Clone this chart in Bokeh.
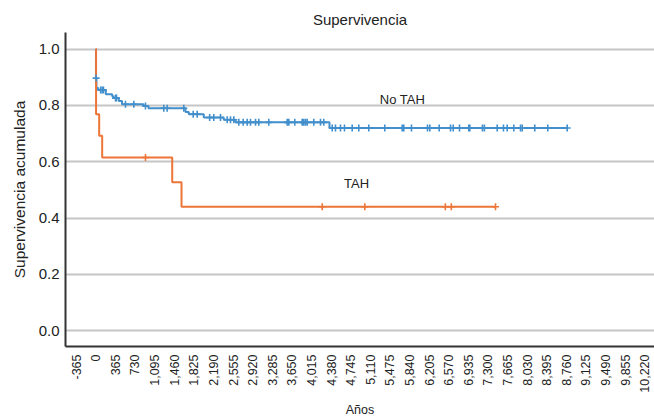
from bokeh.plotting import figure
from bokeh.models import Range1d, FixedTicker, Label, CustomJSTickFormatter
from bokeh.embed import file_html
from bokeh.resources import INLINE
import math

# Kaplan-Meier estimates (days since diagnosis, cumulative survival)
no_tah_times = [0, 3, 12, 45, 186, 305, 330, 428, 488, 890, 981, 1670, 1732,
                2011, 2383, 2601, 4351, 8790]
no_tah_surv = [1.0, 0.897, 0.862, 0.855, 0.840, 0.833, 0.826, 0.816, 0.804,
               0.798, 0.790, 0.777, 0.769, 0.757, 0.749, 0.740, 0.720, 0.720]
no_tah_censored = [6, 90, 119, 143, 367, 386, 553, 708, 925, 1266, 1329, 1639,
                   1814, 1888, 2120, 2197, 2322, 2447, 2508, 2570, 2663, 2745,
                   2819, 2880, 2974, 3035, 3221, 3564, 3594, 3705, 3843, 3873,
                   3905, 3936, 4059, 4184, 4245, 4402, 4463, 4556, 4631, 4774,
                   4897, 5083, 5381, 5705, 5735, 5878, 6176, 6219, 6394, 6605,
                   6655, 6772, 6945, 6964, 7199, 7236, 7474, 7591, 7660, 7783,
                   7908, 7940, 8174, 8416, 8777]

tah_times = [0, 5, 63, 119, 1423, 1596, 7443]
tah_surv = [1.0, 0.769, 0.692, 0.615, 0.527, 0.440, 0.440]
tah_censored = [925, 4216, 5009, 6508, 6620, 7443]

x_ticks = list(range(-365, 10221, 365))
y_ticks = [0.0, 0.2, 0.4, 0.6, 0.8, 1.0]

BLUE = "#428fcc"
ORANGE = "#ec7537"
FONT = "Liberation Sans"


def surv_at(times, surv, t):
    s = surv[0]
    for ti, si in zip(times, surv):
        if ti <= t:
            s = si
    return s


p = figure(width=654, height=419, output_backend="svg", toolbar_location=None,
           x_range=Range1d(-564, 10403), y_range=Range1d(-0.056, 1.059),
           min_border_left=65, min_border_right=0, min_border_top=32,
           min_border_bottom=68)
p.outline_line_color = None
p.background_fill_color = "white"
p.border_fill_color = "white"

p.title.text = "Supervivencia"
p.title.align = "center"
p.title.text_font = FONT
p.title.text_font_size = "15px"
p.title.text_font_style = "normal"
p.title.text_color = "#222222"

# grid: horizontal only
p.xgrid.grid_line_color = None
p.ygrid.grid_line_color = "#c6c6c6"
p.ygrid.grid_line_width = 2
p.ygrid.ticker = FixedTicker(ticks=y_ticks)

# axes
for ax in (p.xaxis[0], p.yaxis[0]):
    ax.axis_line_color = "#333333"
    ax.axis_line_width = 2
    ax.major_tick_line_color = None
    ax.minor_tick_line_color = None
    ax.major_tick_out = 0
    ax.minor_tick_out = 0
    ax.major_label_text_font = FONT
    ax.major_label_text_color = "#222222"
    ax.axis_label_text_font = FONT
    ax.axis_label_text_font_style = "normal"
    ax.axis_label_text_color = "#222222"

p.yaxis.ticker = FixedTicker(ticks=y_ticks)
p.yaxis.formatter = CustomJSTickFormatter(code="return tick.toFixed(1);")
p.yaxis.major_label_text_font_size = "15px"
p.yaxis.major_label_standoff = 6
p.yaxis.axis_label = "Supervivencia acumulada"
p.yaxis.axis_label_text_font_size = "15.5px"
p.yaxis.axis_label_standoff = 8

p.xaxis.ticker = FixedTicker(ticks=x_ticks)
p.xaxis.formatter = CustomJSTickFormatter(
    code="return tick.toLocaleString('en-US');")
p.xaxis.major_label_orientation = math.pi / 2
p.xaxis.major_label_text_font_size = "12.5px"
p.xaxis.major_label_standoff = 8
p.xaxis.axis_label = "Años"
p.xaxis.axis_label_text_font_size = "12.5px"
p.xaxis.axis_label_standoff = 7

# survival curves
p.step(no_tah_times, no_tah_surv, mode="after", line_color=BLUE, line_width=2)
p.step(tah_times, tah_surv, mode="after", line_color=ORANGE, line_width=2)

# censor marks
p.scatter(no_tah_censored,
          [surv_at(no_tah_times, no_tah_surv, t) for t in no_tah_censored],
          marker="cross", size=7, line_color=BLUE, line_width=1.6)
p.scatter(tah_censored,
          [surv_at(tah_times, tah_surv, t) for t in tah_censored],
          marker="cross", size=7, line_color=ORANGE, line_width=1.6)

# group labels
p.add_layout(Label(x=5710, y=0.822, text="No TAH", text_align="center",
                   text_baseline="middle", text_font=FONT,
                   text_font_size="13px", text_color="#222222"))
p.add_layout(Label(x=4855, y=0.524, text="TAH", text_align="center",
                   text_baseline="middle", text_font=FONT,
                   text_font_size="13px", text_color="#222222"))

open("out.html", "w").write(file_html(p, INLINE))
